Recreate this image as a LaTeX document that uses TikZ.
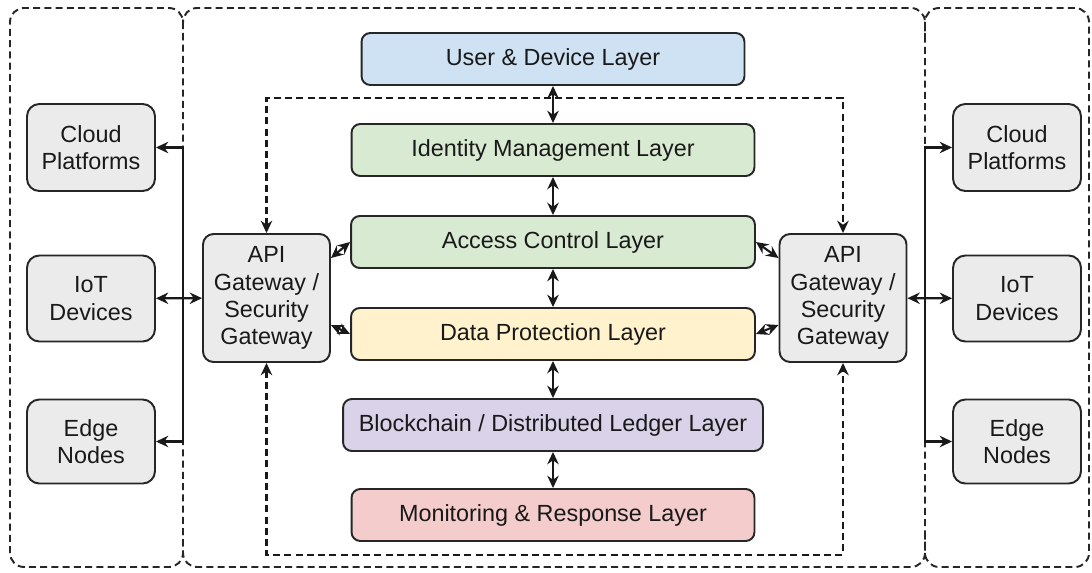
\documentclass[tikz,border=0pt]{standalone}
\usepackage{fontspec}
\setmainfont{Liberation Sans}
\usetikzlibrary{arrows.meta}

\definecolor{userblue}{HTML}{CFE2F3}
\definecolor{idgreen}{HTML}{D9EAD3}
\definecolor{datayellow}{HTML}{FFF2CC}
\definecolor{chainviolet}{HTML}{D9D2E9}
\definecolor{monred}{HTML}{F4CCCC}
\definecolor{boxgray}{HTML}{EBEBEB}

\tikzset{
  txt/.style={font=\fontsize{13.3}{15.5}\selectfont, text=black!90},
  layer/.style={txt, draw=black!85, line width=1.1pt, rounded corners=5pt,
    minimum height=1.04cm, inner sep=2pt},
  sidebox/.style={txt, draw=black!85, line width=1.1pt, rounded corners=7pt,
    fill=boxgray, minimum width=2.56cm, minimum height=1.74cm, align=center, inner sep=2pt},
  gatebox/.style={txt, draw=black!85, line width=1.1pt, rounded corners=6pt,
    fill=boxgray, minimum width=2.54cm, minimum height=2.56cm, align=center, inner sep=2pt},
  frame/.style={draw=black!85, line width=1.1pt, dash pattern=on 4pt off 2.4pt, rounded corners=8pt},
  arr/.style={draw=black!90, line width=1.2pt, -{Stealth[length=7pt,width=6.5pt]}},
  arrtwo/.style={draw=black!90, line width=1.2pt, {Stealth[length=7pt,width=6.5pt]}-{Stealth[length=7pt,width=6.5pt]}},
  loop/.style={arrtwo, dash pattern=on 4pt off 2.4pt}
}

\begin{document}
\begin{tikzpicture}[x=0.02cm,y=-0.02cm]
  \useasboundingbox (0,0) rectangle (1092,572);

  % dashed frames
  \draw[frame] (183,8) rectangle (925,567);
  \draw[frame] (183,40) -- (183,8) -- (10,8) -- (10,567) -- (183,567) -- (183,535);
  \draw[frame] (925,40) -- (925,8) -- (1089,8) -- (1089,567) -- (925,567) -- (925,535);

  % layer stack
  \node[layer, fill=userblue, minimum width=7.66cm] (user) at (553,59) {User \& Device Layer};
  \node[layer, fill=idgreen, minimum width=8.06cm] (idm) at (553,150) {Identity Management Layer};
  \node[layer, fill=idgreen, minimum width=8.08cm] (acc) at (553,242) {Access Control Layer};
  \node[layer, fill=datayellow, minimum width=8.08cm] (dp) at (553,334) {Data Protection Layer};
  \node[layer, fill=chainviolet, minimum width=8.4cm] (chain) at (553,425) {Blockchain / Distributed Ledger Layer};
  \node[layer, fill=monred, minimum width=8.06cm] (mon) at (553,515) {Monitoring \& Response Layer};

  % gateways
  \node[gatebox] (gwL) at (266.5,298) {API\\Gateway /\\Security\\Gateway};
  \node[gatebox] (gwR) at (843,298) {API\\Gateway /\\Security\\Gateway};

  % outside systems
  \node[sidebox] (cloudL) at (91,147.5) {Cloud\\Platforms};
  \node[sidebox, minimum height=1.72cm] (iotL) at (91,298.5) {IoT\\Devices};
  \node[sidebox, minimum height=1.68cm] (edgeL) at (91,441.5) {Edge\\Nodes};
  \node[sidebox] (cloudR) at (1017,147.5) {Cloud\\Platforms};
  \node[sidebox, minimum height=1.72cm] (iotR) at (1017,298.5) {IoT\\Devices};
  \node[sidebox, minimum height=1.68cm] (edgeR) at (1017,441.5) {Edge\\Nodes};

  % dashed loop round the stack
  \coordinate (loopT) at (553,98);
  \coordinate (loopB) at (553,555);
  \draw[loop] (gwL.north) -- (gwL.north |- loopT) -- (gwR.north |- loopT) -- (gwR.north);
  \draw[loop] (gwL.south) -- (gwL.south |- loopB) -- (gwR.south |- loopB) -- (gwR.south);

  % stack links
  \draw[arrtwo] (user) -- (idm);
  \draw[arrtwo] (idm) -- (acc);
  \draw[arrtwo] (acc) -- (dp);
  \draw[arrtwo] (dp) -- (chain);
  \draw[arrtwo] (chain) -- (mon);

  % gateway to stack
  \draw[arrtwo] ([yshift=0.8cm]gwL.east) -- (acc.west);
  \draw[arrtwo] ([yshift=-0.54cm]gwL.east) -- (dp.west);
  \draw[arrtwo] ([yshift=0.8cm]gwR.west) -- (acc.east);
  \draw[arrtwo] ([yshift=-0.54cm]gwR.west) -- (dp.east);

  % buses
  \coordinate (busL) at (183,298);
  \coordinate (busR) at (925,298);
  \draw[arr] (busL) |- (cloudL);
  \draw[arr] (busL) |- (edgeL);
  \draw[arrtwo] (iotL) -- (gwL);
  \draw[arr] (busR) |- (cloudR);
  \draw[arr] (busR) |- (edgeR);
  \draw[arrtwo] (gwR) -- (iotR);
\end{tikzpicture}
\end{document}
